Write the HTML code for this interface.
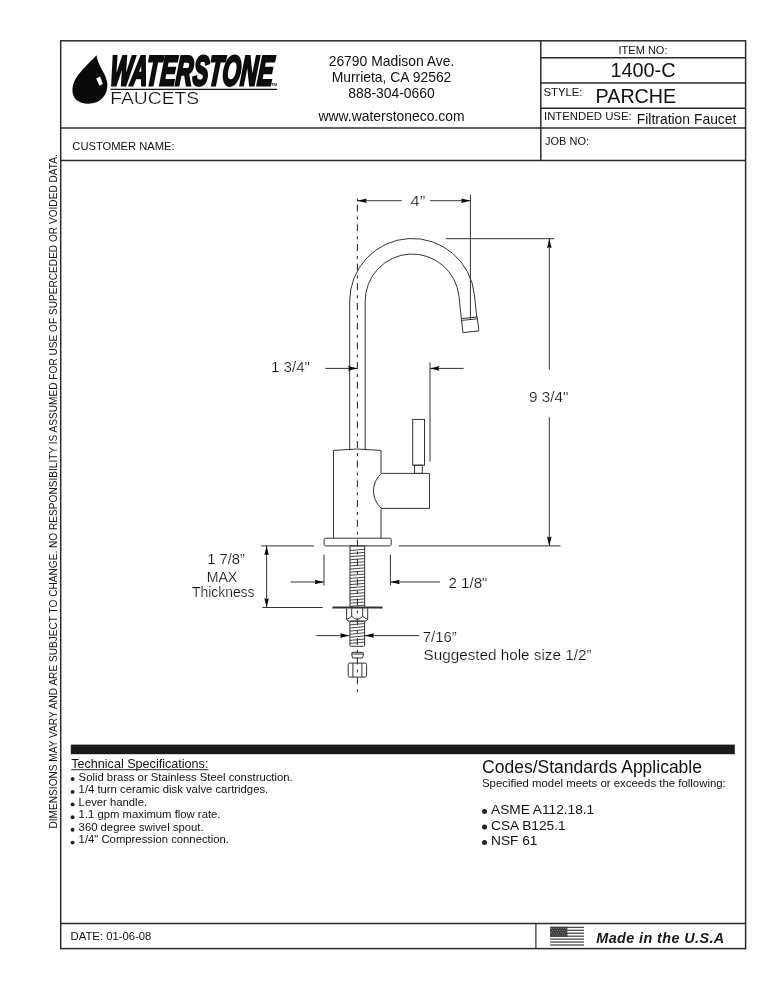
<!DOCTYPE html>
<html><head><meta charset="utf-8">
<style>
html,body{margin:0;padding:0;background:#fff;width:773px;height:1000px;overflow:hidden}
svg{position:absolute;left:0;top:0;display:block;will-change:transform}
text{font-family:"Liberation Sans",sans-serif;fill:#111}
</style></head>
<body>
<svg width="773" height="1000" viewBox="0 0 773 1000">
<defs>
<marker id="ah" viewBox="0 0 9.5 4.6" refX="9.5" refY="2.3" markerWidth="9.5" markerHeight="4.6" markerUnits="userSpaceOnUse" orient="auto-start-reverse">
<path d="M0,0 L9.5,2.3 L0,4.6 L1.2,2.3 Z" fill="#0a0a0a"/>
</marker>
</defs>
<!-- frame -->
<g stroke="#2b2b2b" stroke-width="1.5" fill="none">
<rect x="60.7" y="40.8" width="684.9" height="907.8"/>
<line x1="60.7" y1="128" x2="745.6" y2="128"/>
<line x1="60.7" y1="160.4" x2="745.6" y2="160.4"/>
<line x1="60.7" y1="923.5" x2="745.6" y2="923.5"/>
<line x1="540.8" y1="40.8" x2="540.8" y2="160.4"/>
<line x1="540.8" y1="57.7" x2="745.6" y2="57.7"/>
<line x1="540.8" y1="83.1" x2="745.6" y2="83.1"/>
<line x1="540.8" y1="108.2" x2="745.6" y2="108.2"/>
<line x1="535.9" y1="923.5" x2="535.9" y2="948.6" stroke-width="1.2"/>
</g>
<rect x="70.8" y="744.6" width="664" height="9.6" fill="#1a1a1a"/>

<!-- vertical disclaimer -->
<text transform="translate(56.5,828.5) rotate(-90)" font-size="10.12" style="fill:#151515">DIMENSIONS MAY VARY AND ARE SUBJECT TO CHANGE. NO RESPONSIBILITY IS ASSUMED FOR USE OF SUPERCEDED OR VOIDED DATA.</text>

<!-- logo -->
<g id="logo">
<path d="M96.5,55.2 C90,62 80,71 75.5,79 C71.5,86 71,95 76.5,100 C81.5,104.5 92,104.8 99,101 C105.5,97 108.5,89 107,81.5 C105.5,73 98,66 96.5,55.2 Z" fill="#0a0a0a"/>
<path d="M96.2,78.5 L100,76.5 L102.9,83.8 L99.4,85.8 Z" fill="#fff"/>
<text transform="translate(109.2,84.5) skewX(-5) scale(0.566,1)" font-size="41.4" font-weight="bold" font-style="italic" fill="#0a0a0a" stroke="#0a0a0a" stroke-width="2.4" vector-effect="non-scaling-stroke" stroke-linejoin="miter">WATERSTONE</text>
<line x1="110.6" y1="89.4" x2="277" y2="89.4" stroke="#111" stroke-width="1.1"/>
<text x="271" y="86" font-size="4.2" font-weight="bold" fill="#111">TM</text>
<text transform="translate(110.3,103.9) scale(1.22,1)" font-size="15.8" fill="#000" stroke="#fff" stroke-width="0.25">FAUCETS</text>
</g>

<!-- address -->
<g font-size="13.9" text-anchor="middle">
<text x="391.5" y="66.3">26790 Madison Ave.</text>
<text x="391.5" y="81.7">Murrieta, CA 92562</text>
<text x="391.5" y="97.6">888-304-0660</text>
<text x="391.5" y="120.9">www.waterstoneco.com</text>
</g>

<!-- right table -->
<text x="643" y="53.6" font-size="11" text-anchor="middle">ITEM NO:</text>
<text x="643" y="76.8" font-size="19.9" text-anchor="middle">1400-C</text>
<text x="543.5" y="95.6" font-size="11.3">STYLE:</text>
<text x="595.6" y="103.2" font-size="19.7">PARCHE</text>
<text x="544" y="120" font-size="11.35">INTENDED USE:</text>
<text x="636.8" y="123.5" font-size="13.9">Filtration Faucet</text>
<text x="72.3" y="149.9" font-size="11.2">CUSTOMER NAME:</text>
<text x="545" y="145" font-size="11">JOB NO:</text>

<!-- tech specs -->
<g font-size="11.3">
<text x="71.2" y="768" font-size="12.6">Technical Specifications:</text>
<line x1="71.2" y1="769.7" x2="208.4" y2="769.7" stroke="#222" stroke-width="1"/>
<text x="78.6" y="781.0">Solid brass or Stainless Steel construction.</text>
<text x="78.6" y="793.4">1/4 turn ceramic disk valve cartridges.</text>
<text x="78.6" y="805.9">Lever handle.</text>
<text x="78.6" y="818.4">1.1 gpm maximum flow rate.</text>
<text x="78.6" y="830.8">360 degree swivel spout.</text>
<text x="78.6" y="843.4">1/4" Compression connection.</text>
</g>
<g fill="#222">
<circle cx="72.6" cy="779" r="1.95"/><circle cx="72.6" cy="791.9" r="1.95"/><circle cx="72.6" cy="804.4" r="1.95"/>
<circle cx="72.6" cy="817.2" r="1.95"/><circle cx="72.6" cy="829.7" r="1.95"/><circle cx="72.6" cy="842.6" r="1.95"/>
</g>

<!-- codes -->
<text x="482.1" y="772.7" font-size="17.5">Codes/Standards Applicable</text>
<text x="482" y="786.7" font-size="11.4">Specified model meets or exceeds the following:</text>
<g font-size="13.7">
<text x="491" y="814.3">ASME A112.18.1</text>
<text x="491" y="829.7">CSA B125.1</text>
<text x="491" y="845">NSF 61</text>
</g>
<g fill="#222">
<circle cx="484.5" cy="811.5" r="2.5"/><circle cx="484.5" cy="827" r="2.5"/><circle cx="484.5" cy="842.5" r="2.5"/>
</g>

<!-- bottom -->
<text x="70.6" y="940.3" font-size="11.3">DATE: 01-06-08</text>
<g id="flag" fill="#4a4a4a">
<rect x="550.2" y="926.75" width="33.8" height="1.3"/><rect x="550.2" y="929.68" width="33.8" height="1.3"/><rect x="550.2" y="932.61" width="33.8" height="1.3"/><rect x="550.2" y="935.54" width="33.8" height="1.3"/><rect x="550.2" y="938.47" width="33.8" height="1.3"/><rect x="550.2" y="941.40" width="33.8" height="1.3"/><rect x="550.2" y="944.33" width="33.8" height="1.3"/>
<rect x="550.2" y="926.8" width="17.2" height="9.9" fill="#3a3a3a"/>
<g fill="#9a9a9a"><rect x="551.0" y="927.9" width="0.9" height="0.9"/><rect x="553.4" y="927.9" width="0.9" height="0.9"/><rect x="555.8" y="927.9" width="0.9" height="0.9"/><rect x="558.2" y="927.9" width="0.9" height="0.9"/><rect x="560.6" y="927.9" width="0.9" height="0.9"/><rect x="563.0" y="927.9" width="0.9" height="0.9"/><rect x="565.4" y="927.9" width="0.9" height="0.9"/><rect x="552.2" y="930.1" width="0.9" height="0.9"/><rect x="554.6" y="930.1" width="0.9" height="0.9"/><rect x="557.0" y="930.1" width="0.9" height="0.9"/><rect x="559.4" y="930.1" width="0.9" height="0.9"/><rect x="561.8" y="930.1" width="0.9" height="0.9"/><rect x="564.2" y="930.1" width="0.9" height="0.9"/><rect x="566.6" y="930.1" width="0.9" height="0.9"/><rect x="551.0" y="932.3" width="0.9" height="0.9"/><rect x="553.4" y="932.3" width="0.9" height="0.9"/><rect x="555.8" y="932.3" width="0.9" height="0.9"/><rect x="558.2" y="932.3" width="0.9" height="0.9"/><rect x="560.6" y="932.3" width="0.9" height="0.9"/><rect x="563.0" y="932.3" width="0.9" height="0.9"/><rect x="565.4" y="932.3" width="0.9" height="0.9"/><rect x="552.2" y="934.5" width="0.9" height="0.9"/><rect x="554.6" y="934.5" width="0.9" height="0.9"/><rect x="557.0" y="934.5" width="0.9" height="0.9"/><rect x="559.4" y="934.5" width="0.9" height="0.9"/><rect x="561.8" y="934.5" width="0.9" height="0.9"/><rect x="564.2" y="934.5" width="0.9" height="0.9"/><rect x="566.6" y="934.5" width="0.9" height="0.9"/></g>
</g>
<text x="596.3" y="942.8" font-size="14.4" letter-spacing="0.4" font-weight="bold" font-style="italic" style="fill:#1a1a1a">Made in the U.S.A</text>

<!-- drawing -->
<g id="drawing" stroke="#333" stroke-width="1" fill="none">
<!-- centerline -->
<line x1="357.4" y1="198.6" x2="357.4" y2="201.6" stroke-width="1.1"/>
<line x1="357.4" y1="204.5" x2="357.4" y2="692" stroke-dasharray="7,5,3,4.7" stroke-width="1.1"/>
<!-- 4in dim -->
<line x1="357.4" y1="200.7" x2="401.7" y2="200.7" marker-start="url(#ah)"/>
<line x1="430.2" y1="200.7" x2="470.4" y2="200.7" marker-end="url(#ah)"/>
<line x1="470.4" y1="194.6" x2="470.4" y2="319.6"/>
<!-- spout -->
<path d="M349.7,450.2 L349.7,301.0 A62.5,62.5 0 0 1 474.36,294.47 L476.73,317.0"/>
<path d="M365.2,450.2 L365.2,301.0 A47.0,47.0 0 0 1 458.94,296.09 L461.31,318.6"/>
<path d="M461.4,318.6 L477.2,317 L478.9,330.9 L462.9,332.6 Z"/>
<line x1="461.6" y1="320.4" x2="477.4" y2="318.8"/>
<!-- 1 3/4 dim -->
<line x1="325.3" y1="368.4" x2="357.4" y2="368.4" marker-end="url(#ah)"/>
<line x1="430" y1="362.3" x2="430" y2="461.6"/>
<line x1="463.6" y1="368.4" x2="430" y2="368.4" marker-end="url(#ah)"/>
<!-- body -->
<path d="M333.5,538.2 L333.5,450.4 Q357.3,447.6 381,450.4 L381,473.4 M381,508.4 L381,538.2"/>
<path d="M381.5,473.4 L429.5,473.4 L429.5,508.4 L381.5,508.4 A23.1,23.1 0 0 1 381.5,473.4 Z"/>
<rect x="414.5" y="465.2" width="7.8" height="8.2"/>
<rect x="412.7" y="419.4" width="11.8" height="45.8"/>
<!-- base plate -->
<rect x="324.1" y="538.2" width="67.1" height="7.7" rx="1.5"/>
<!-- extension lines -->
<line x1="261.1" y1="545.9" x2="314" y2="545.9"/>
<line x1="398.8" y1="545.9" x2="560.5" y2="545.9"/>
<!-- 9 3/4 dim -->
<line x1="445.8" y1="238.7" x2="554.4" y2="238.7"/>
<line x1="549.3" y1="369.7" x2="549.3" y2="238.7" marker-end="url(#ah)"/>
<line x1="549.3" y1="417.3" x2="549.3" y2="545.9" marker-end="url(#ah)"/>
<!-- threaded stem -->
<rect x="350" y="545.9" width="14.7" height="61.7"/>
<path d="M350,550.5L364.7,549.3M350,553.6L364.7,552.4M350,556.7L364.7,555.5M350,559.8L364.7,558.6M350,562.9L364.7,561.7M350,566.0L364.7,564.8M350,569.1L364.7,567.9M350,572.2L364.7,571.0M350,575.3L364.7,574.1M350,578.4L364.7,577.2M350,581.5L364.7,580.3M350,584.6L364.7,583.4M350,587.7L364.7,586.5M350,590.8L364.7,589.6M350,593.9L364.7,592.7M350,597.0L364.7,595.8M350,600.1L364.7,598.9M350,603.2L364.7,602.0M350,606.3L364.7,605.1" stroke-width="0.9"/>
<!-- 2 1/8 -->
<line x1="324" y1="554.5" x2="324" y2="585.5"/>
<line x1="390.4" y1="554.5" x2="390.4" y2="585.5"/>
<line x1="290.6" y1="582" x2="324" y2="582" marker-end="url(#ah)"/>
<line x1="440" y1="582" x2="390.4" y2="582" marker-end="url(#ah)"/>
<!-- 1 7/8 -->
<line x1="266.6" y1="545.9" x2="266.6" y2="607.5" marker-start="url(#ah)" marker-end="url(#ah)"/>
<line x1="262.4" y1="607.5" x2="322.7" y2="607.5"/>
<line x1="332.4" y1="607.6" x2="382.6" y2="607.6" stroke-width="2"/>
<!-- hex nut -->
<path d="M346.6,608.4 L346.6,619.3 L348.1,621.1 L366.2,621.1 L367.7,619.3 L367.7,608.4"/>
<path d="M351.7,608.4 L351.7,616.2 M362.7,608.4 L362.7,616.2 M346.8,619.3 Q349.6,618.3 351.7,616.2 Q357.2,622.3 362.7,616.2 Q364.8,618.3 367.5,619.3"/>
<!-- lower stem -->
<rect x="349.9" y="621.2" width="14.7" height="25.1" rx="0.8"/>
<path d="M349.9,624.9L364.6,623.5M349.9,628.0L364.6,626.6M349.9,631.1L364.6,629.7M349.9,634.2L364.6,632.8M349.9,637.3L364.6,635.9M349.9,640.4L364.6,639.0M349.9,643.5L364.6,642.1" stroke-width="0.9"/>
<!-- 7/16 -->
<line x1="316.4" y1="635.6" x2="349.5" y2="635.6" marker-end="url(#ah)"/>
<line x1="419.4" y1="635.6" x2="364.7" y2="635.6" marker-end="url(#ah)"/>
<!-- ferrule -->
<path d="M351.6,653.5 Q351.6,652.3 353,652.3 L362.2,652.3 Q363.5,652.3 363.5,653.5 L362.6,658 L352.5,658 Z"/>
<line x1="351.8" y1="654" x2="363.3" y2="654"/>
<!-- compression nut -->
<rect x="348.2" y="663.1" width="18.4" height="14" rx="1.5"/>
<line x1="352.9" y1="663.1" x2="352.9" y2="677.1"/>
<line x1="361.9" y1="663.1" x2="361.9" y2="677.1"/>
</g>
<g font-size="14.5" style="fill:#000" stroke="#fff" stroke-width="0.2">
<text x="410.3" y="205.6" textLength="15" lengthAdjust="spacingAndGlyphs">4”</text>
<text x="271" y="372.3" textLength="39" lengthAdjust="spacingAndGlyphs">1 3/4"</text>
<text x="529" y="401.7" textLength="39.5" lengthAdjust="spacingAndGlyphs">9 3/4"</text>
<text x="207.2" y="563.5" textLength="37.8" lengthAdjust="spacingAndGlyphs">1 7/8”</text>
<text x="206.7" y="582" textLength="30.6" lengthAdjust="spacingAndGlyphs">MAX</text>
<text x="192" y="597.4" textLength="62.5" lengthAdjust="spacingAndGlyphs">Thickness</text>
<text x="448.5" y="588.3" textLength="39" lengthAdjust="spacingAndGlyphs">2 1/8"</text>
<text x="422.8" y="641.6" textLength="34" lengthAdjust="spacingAndGlyphs">7/16”</text>
<text x="423.5" y="660.3" textLength="168" lengthAdjust="spacingAndGlyphs">Suggested hole size 1/2”</text>
</g>
</svg>
</body></html>
